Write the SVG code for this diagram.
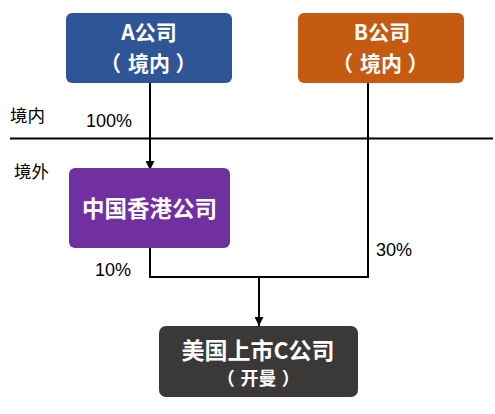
<svg xmlns="http://www.w3.org/2000/svg" width="495" height="414" viewBox="0 0 495 414">
<defs>
<style>
.box-t{font-family:"Noto Sans CJK SC","Liberation Sans",sans-serif;font-weight:bold;fill:#fff;text-anchor:middle}
.box-s{font-family:"Noto Sans CJK SC","Liberation Sans",sans-serif;font-weight:bold;fill:#fff}
.lbl{font-family:"Liberation Sans","Noto Sans CJK SC",sans-serif;font-size:18px;fill:#000}
.cjk{font-family:"Noto Sans CJK SC",sans-serif;font-size:17.5px;fill:#000}
.ln{stroke:#000;stroke-width:2;fill:none}
</style>
<marker id="arr" viewBox="0 0 10 10" refX="10" refY="5" markerWidth="4.5" markerHeight="4.5" orient="auto" markerUnits="strokeWidth">
<path d="M0,0 L10,5 L0,10 z" fill="#000"/>
</marker>
</defs>
<rect width="495" height="414" fill="#fff"/>
<g id="connectors">
<line class="ln" x1="10" y1="138.5" x2="493" y2="138.5"/>
<line class="ln" x1="150" y1="83" x2="150" y2="170" marker-end="url(#arr)"/>
<polyline class="ln" points="368,83 368,277 150,277 150,248"/>
<line class="ln" x1="259" y1="277" x2="259" y2="326" marker-end="url(#arr)"/>
</g>
<g id="nodeA">
<rect x="66" y="13" width="166" height="70" rx="6" fill="#2F5597"/>
<text class="box-t" x="149" y="40" font-size="21">A公司</text>
<text class="box-s" y="71" font-size="21"><tspan x="100">（</tspan><tspan x="128">境内</tspan><tspan x="175.5">）</tspan></text>
</g>
<g id="nodeB">
<rect x="298" y="13" width="166" height="70" rx="6" fill="#C55A11"/>
<text class="box-t" x="382" y="40" font-size="21">B公司</text>
<text class="box-s" y="71" font-size="21"><tspan x="332">（</tspan><tspan x="360">境内</tspan><tspan x="407.5">）</tspan></text>
</g>
<g id="nodeHK">
<rect x="69" y="168" width="161" height="80" rx="6" fill="#7030A0"/>
<text class="box-t" x="149.5" y="217" font-size="22.5">中国香港公司</text>
</g>
<g id="nodeC">
<rect x="159" y="326" width="199" height="71" rx="7" fill="#3B3838"/>
<text class="box-t" x="258" y="359" font-size="23">美国上市C公司</text>
<text class="box-s" y="385" font-size="18"><tspan x="216.7">（</tspan><tspan x="240.5">开曼</tspan><tspan x="281.8">）</tspan></text>
</g>
<g id="labels">
<text class="cjk" x="10" y="122">境内</text>
<text class="cjk" x="14" y="178">境外</text>
<text class="lbl" x="86" y="126.5">100%</text>
<text class="lbl" x="95" y="276">10%</text>
<text class="lbl" x="376" y="256">30%</text>
</g>
</svg>
